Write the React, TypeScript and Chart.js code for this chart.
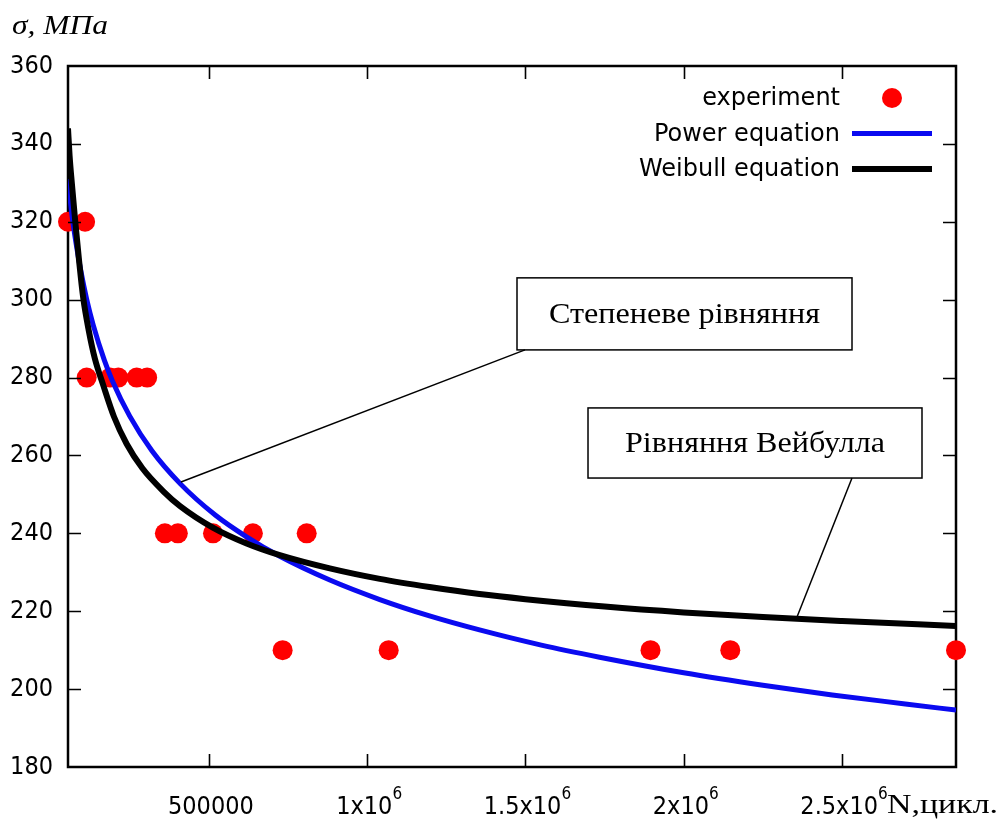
import React, { useEffect, useRef } from "react";
import { Chart, registerables } from "chart.js";
Chart.register(...registerables);

// ---- axes ----
const X_MIN = 55000;
const X_MAX = 2860000;
const Y_MIN = 180;
const Y_MAX = 360;
const Y_STEP = 20;
const X_TICKS = [500000, 1000000, 1500000, 2000000, 2500000];
const X_TICK_BASE = ["500000", "1x10", "1.5x10", "2x10", "2.5x10"];
const X_TICK_EXP = ["", "6", "6", "6", "6"];

// ---- experiment points ----
const expN = [55000, 109000, 114000, 188000, 214000, 272000, 305000, 361000, 402000, 513000, 639000, 809000, 733000, 1068000, 1895000, 2147000, 2860000];
const expS = [320, 320, 280, 280, 280, 280, 280, 240, 240, 240, 240, 240, 210, 210, 210, 210, 210];

// ---- Power equation curve ----
const powerN = [55000, 67000, 80000, 95000, 114000, 135000, 170000, 195000, 250000, 320000, 410000, 520000, 619000, 724000, 882000, 1040000, 1197000, 1355000, 1550000, 1734000, 2000000, 2250000, 2469000, 2700000, 2860000];
const powerS = [331, 322, 314.7, 307.6, 300.1, 293.4, 284.4, 279.2, 270.1, 261.2, 252.7, 244.7, 239.1, 234.1, 228, 223, 218.8, 215.2, 211.3, 208.2, 204.2, 201, 198.5, 196.2, 194.6];

// ---- Weibull equation curve ----
const weibullN = [55000, 60000, 67000, 78000, 90000, 103000, 120000, 140000, 166500, 200000, 240000, 290000, 356000, 409000, 514000, 619000, 724000, 882000, 1040000, 1197000, 1355000, 1500000, 1750000, 2000000, 2250000, 2500000, 2860000];
const weibullS = [344, 337, 330, 320, 310, 300.5, 292.3, 284.8, 278, 270, 263, 256.7, 250.8, 247, 241.4, 237.4, 234.4, 231, 228.3, 226.2, 224.4, 223.1, 221.2, 219.7, 218.5, 217.5, 216.2];

const SERIES_LABELS = ["experiment", "Power equation", "Weibull equation"];
const SERIES_COLORS = ["#ff0000", "#0a0af0", "#000000"];

// ---- callout annotations (data units) ----
const calloutTexts = ["Степеневе рівняння", "Рівняння Вейбулла"];
const calloutBoxN = [[1473300, 2531500], [1697600, 2752600]];
const calloutBoxS = [[305.6, 287.1], [272.2, 254.2]];
const calloutFrom = [[1498600, 287.1], [2531500, 254.2]];
const calloutTo = [[411900, 253.2], [2357800, 218.5]];
const calloutTextWidth = [271, 260];

const SANS = "'DejaVu Sans', Verdana, sans-serif";
const SANS_C = "'DejaVu Sans Condensed', 'DejaVu Sans', sans-serif";
const SERIF = "'Liberation Serif', 'Times New Roman', serif";

function drawFitText(ctx: CanvasRenderingContext2D, text: string, x: number, y: number, font: string, width: number, center: boolean) {
  ctx.save();
  ctx.font = font;
  ctx.textAlign = "left";
  ctx.textBaseline = "alphabetic";
  const w = ctx.measureText(text).width;
  const sx = width / w;
  ctx.translate(x, y);
  ctx.scale(sx, 1);
  ctx.fillStyle = "#000";
  ctx.fillText(text, center ? -w / 2 : 0, 0);
  ctx.restore();
}

const framePlugin = {
  id: "frameTicks",
  beforeDatasetsDraw(chart: any) {
    const { ctx, chartArea: a } = chart;
    ctx.save();
    ctx.strokeStyle = "#000";
    ctx.lineWidth = 2.5;
    ctx.strokeRect(a.left, a.top, a.right - a.left, a.bottom - a.top);
    ctx.restore();
  },
  afterDatasetsDraw(chart: any) {
    const { ctx, chartArea: a, scales } = chart;
    const tl = 13;
    ctx.save();
    ctx.strokeStyle = "#000";
    ctx.lineWidth = 1.6;
    ctx.beginPath();
    for (let v = Y_MIN + Y_STEP; v < Y_MAX; v += Y_STEP) {
      const y = Math.round(scales.y.getPixelForValue(v)) + 0.5;
      ctx.moveTo(a.left, y); ctx.lineTo(a.left + tl, y);
      ctx.moveTo(a.right, y); ctx.lineTo(a.right - tl, y);
    }
    for (const v of X_TICKS) {
      const x = Math.round(scales.x.getPixelForValue(v)) + 0.5;
      ctx.moveTo(x, a.bottom); ctx.lineTo(x, a.bottom - tl);
      ctx.moveTo(x, a.top); ctx.lineTo(x, a.top + tl);
    }
    ctx.stroke();
    ctx.restore();
  },
  afterDraw(chart: any) {
    const { ctx, scales } = chart;
    const sx = scales.x, sy = scales.y;

    // x tick labels with superscripts
    ctx.save();
    ctx.fillStyle = "#000";
    ctx.textBaseline = "alphabetic";
    ctx.textAlign = "left";
    X_TICKS.forEach((v, i) => {
      const x = sx.getPixelForValue(v);
      ctx.font = `25px ${SANS_C}`;
      const wb = ctx.measureText(X_TICK_BASE[i]).width;
      ctx.font = `17px ${SANS_C}`;
      const we = X_TICK_EXP[i] ? ctx.measureText(X_TICK_EXP[i]).width : 0;
      const start = x - (wb + we) / 2 + 2;
      ctx.font = `25px ${SANS_C}`;
      ctx.fillText(X_TICK_BASE[i], start, 814);
      if (X_TICK_EXP[i]) {
        ctx.font = `17px ${SANS_C}`;
        ctx.fillText(X_TICK_EXP[i], start + wb, 799);
      }
    });
    ctx.restore();

    // legend
    ctx.save();
    ctx.font = `24px ${SANS}`;
    ctx.textAlign = "right";
    ctx.textBaseline = "middle";
    const rows = [98, 133.5, 169];
    chart.data.datasets.forEach((ds: any, i: number) => {
      const y = rows[i];
      ctx.fillStyle = "#000";
      ctx.fillText(ds.label, 840, y + 1);
      if (i === 0) {
        ctx.beginPath();
        ctx.fillStyle = ds.backgroundColor;
        ctx.arc(892, y, 10, 0, Math.PI * 2);
        ctx.fill();
      } else {
        ctx.beginPath();
        ctx.strokeStyle = ds.borderColor;
        ctx.lineWidth = ds.borderWidth;
        ctx.moveTo(852, y); ctx.lineTo(932, y);
        ctx.stroke();
      }
    });
    ctx.restore();

    // callouts
    ctx.save();
    ctx.strokeStyle = "#000";
    ctx.lineWidth = 1.5;
    calloutTexts.forEach((t, i) => {
      const x0 = sx.getPixelForValue(calloutBoxN[i][0]);
      const x1 = sx.getPixelForValue(calloutBoxN[i][1]);
      const y0 = sy.getPixelForValue(calloutBoxS[i][0]);
      const y1 = sy.getPixelForValue(calloutBoxS[i][1]);
      ctx.fillStyle = "#fff";
      ctx.fillRect(x0, y0, x1 - x0, y1 - y0);
      ctx.strokeRect(x0, y0, x1 - x0, y1 - y0);
      ctx.beginPath();
      ctx.moveTo(sx.getPixelForValue(calloutFrom[i][0]), sy.getPixelForValue(calloutFrom[i][1]));
      ctx.lineTo(sx.getPixelForValue(calloutTo[i][0]), sy.getPixelForValue(calloutTo[i][1]));
      ctx.stroke();
      drawFitText(ctx, t, (x0 + x1) / 2, (y0 + y1) / 2 + 9, `30px ${SERIF}`, calloutTextWidth[i], true);
    });
    ctx.restore();

    // axis titles
    drawFitText(ctx, "σ, МПа", 12, 34, `italic 27px ${SERIF}`, 96, false);
    drawFitText(ctx, "N,цикл.", 887, 813, `27px ${SERIF}`, 111, false);
  },
};

export default function App() {
  const ref = useRef<HTMLCanvasElement | null>(null);
  useEffect(() => {
    if (!ref.current) return;
    const chart = new Chart(ref.current, {
      type: "scatter",
      data: {
        datasets: [
          {
            label: SERIES_LABELS[0],
            data: expN.map((n, i) => ({ x: n, y: expS[i] })),
            backgroundColor: SERIES_COLORS[0],
            borderColor: SERIES_COLORS[0],
            pointRadius: 10,
            pointBorderWidth: 0,
            showLine: false,
            clip: false as any,
            order: 3,
          },
          {
            label: SERIES_LABELS[1],
            data: powerN.map((n, i) => ({ x: n, y: powerS[i] })),
            borderColor: SERIES_COLORS[1],
            backgroundColor: SERIES_COLORS[1],
            borderWidth: 5,
            pointRadius: 0,
            showLine: true,
            cubicInterpolationMode: "monotone",
            order: 2,
          },
          {
            label: SERIES_LABELS[2],
            data: weibullN.map((n, i) => ({ x: n, y: weibullS[i] })),
            borderColor: SERIES_COLORS[2],
            backgroundColor: SERIES_COLORS[2],
            borderWidth: 6,
            pointRadius: 0,
            showLine: true,
            cubicInterpolationMode: "monotone",
            order: 1,
          },
        ],
      },
      options: {
        responsive: false,
        animation: false,
        devicePixelRatio: 1,
        layout: { padding: { top: 66, right: 44, left: 0, bottom: 0 } },
        plugins: { legend: { display: false }, tooltip: { enabled: false } },
        scales: {
          x: {
            type: "linear",
            min: X_MIN,
            max: X_MAX,
            grid: { display: false },
            border: { display: false },
            afterBuildTicks: (s: any) => {
              s.ticks = X_TICKS.map((v) => ({ value: v }));
            },
            afterFit: (s: any) => {
              s.height = 54;
            },
            ticks: { display: false },
          },
          y: {
            type: "linear",
            min: Y_MIN,
            max: Y_MAX,
            grid: { display: false },
            border: { display: false },
            afterFit: (s: any) => {
              s.width = 68;
            },
            ticks: {
              stepSize: Y_STEP,
              padding: 7,
              color: "#000",
              font: { family: SANS_C, size: 25 },
            },
          },
        },
      },
      plugins: [framePlugin],
    } as any);
    return () => chart.destroy();
  }, []);
  return (
    <div style={{ position: "absolute", left: 0, top: 0, width: 1000, height: 821, background: "#fff" }}>
      <canvas ref={ref} width={1000} height={821} />
    </div>
  );
}
